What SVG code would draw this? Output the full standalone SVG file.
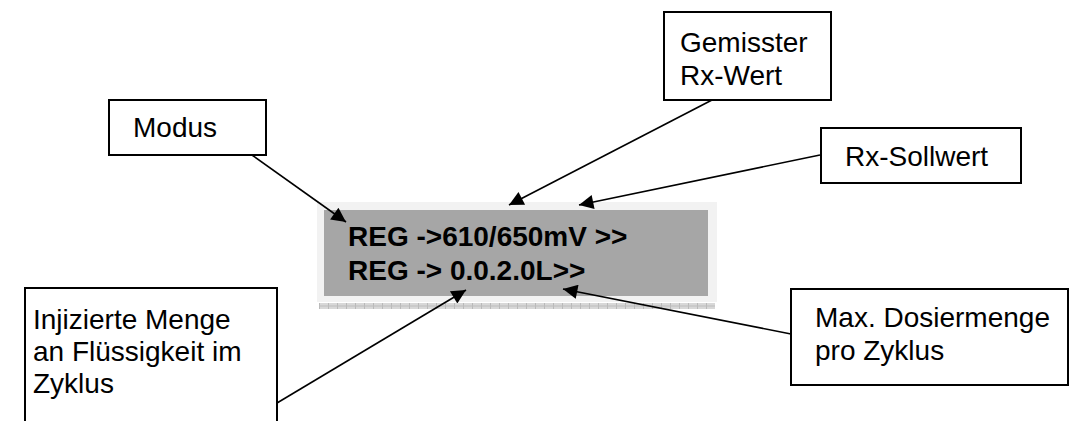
<svg xmlns="http://www.w3.org/2000/svg" width="1071" height="421" viewBox="0 0 1071 421">
<style>
.box{fill:#fff;stroke:#000;stroke-width:2}
.lbl{font-family:"Liberation Sans",Arial,sans-serif;font-size:28px;fill:#000}
.lcd{font-family:"Liberation Sans",Arial,sans-serif;font-size:28px;font-weight:bold;fill:#000}
.con{stroke:#000;stroke-width:1.6;fill:none;marker-end:url(#ah)}
</style>
<defs>
<marker id="ah" viewBox="0 0 10 10" refX="10" refY="5" markerWidth="10" markerHeight="9" markerUnits="strokeWidth" orient="auto">
<path d="M0,0 L10,5 L0,10 Z" fill="#000"/>
</marker>
<pattern id="hatch" x="319" y="303" width="9" height="6" patternUnits="userSpaceOnUse">
<rect width="9" height="6" fill="#d8d8d8"/>
<line x1="0" y1="0" x2="0" y2="6" stroke="#9a9a9a" stroke-width="1"/>
<line x1="0" y1="3" x2="9" y2="3" stroke="#bdbdbd" stroke-width="1"/>
</pattern>
</defs>
<g id="display">
<rect x="319" y="303" width="396" height="6" fill="url(#hatch)"/>
<rect x="317" y="202" width="400" height="100" fill="#f2f2f2"/>
<rect x="324" y="210" width="384" height="86" fill="#a6a6a6"/>
<text class="lcd" x="348" y="246">REG -&gt;610/650mV &gt;&gt;</text>
<text class="lcd" x="348" y="280">REG -&gt; 0.0.2.0L&gt;&gt;</text>
</g>
<g id="modus">
<rect class="box" x="109" y="100" width="157" height="55"/>
<text class="lbl" x="133" y="137">Modus</text>
</g>
<g id="gemisster">
<rect class="box" x="664" y="12" width="167" height="88"/>
<text class="lbl" x="680" y="52">Gemisster</text>
<text class="lbl" x="680" y="85">Rx-Wert</text>
</g>
<g id="sollwert">
<rect class="box" x="821" y="128" width="200" height="55"/>
<text class="lbl" x="845" y="166">Rx-Sollwert</text>
</g>
<g id="injizierte">
<rect class="box" x="25" y="288" width="252" height="150"/>
<text class="lbl" x="33" y="329">Injizierte Menge</text>
<text class="lbl" x="33" y="361">an Flüssigkeit im</text>
<text class="lbl" x="33" y="393">Zyklus</text>
</g>
<g id="dosiermenge">
<rect class="box" x="791" y="289" width="277" height="96"/>
<text class="lbl" x="815" y="327">Max. Dosiermenge</text>
<text class="lbl" x="815" y="360">pro Zyklus</text>
</g>
<g id="connectors">
<line class="con" x1="252" y1="155" x2="346" y2="222"/>
<line class="con" x1="712" y1="100" x2="509" y2="205"/>
<line class="con" x1="820" y1="155" x2="579" y2="205"/>
<line class="con" x1="277" y1="403" x2="466" y2="290"/>
<line class="con" x1="791" y1="334" x2="563" y2="289"/>
</g>
</svg>
